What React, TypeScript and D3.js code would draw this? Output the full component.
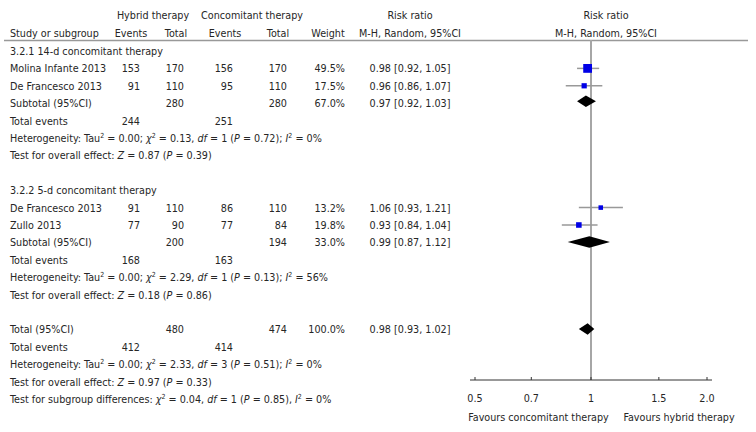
import React from "react";
import * as d3 from "d3";

// ---- Data ----
const subgroupTitles = ["3.2.1 14-d concomitant therapy", "3.2.2 5-d concomitant therapy"];
const studyNames = ["Molina Infante 2013", "De Francesco 2013", "De Francesco 2013", "Zullo 2013"];
const studyGroup = [0, 0, 1, 1];
const hybridEvents = [153, 91, 91, 77];
const hybridTotals = [170, 110, 110, 90];
const concEvents = [156, 95, 86, 77];
const concTotals = [170, 110, 110, 84];
const studyWeights = [49.5, 17.5, 13.2, 19.8];
const studyRR = [0.98, 0.96, 1.06, 0.93];
const studyLo = [0.92, 0.86, 0.93, 0.84];
const studyHi = [1.05, 1.07, 1.21, 1.04];

// subtotals (group 0, group 1) and overall (index 2)
const pooledLabels = ["Subtotal (95%CI)", "Subtotal (95%CI)", "Total (95%CI)"];
const pooledHybridTotal = [280, 200, 480];
const pooledConcTotal = [280, 194, 474];
const pooledWeight = ["67.0%", "33.0%", "100.0%"];
const pooledRR = [0.97, 0.99, 0.98];
const pooledLo = [0.92, 0.87, 0.93];
const pooledHi = [1.03, 1.12, 1.02];
const pooledHybridEvents = [244, 168, 412];
const pooledConcEvents = [251, 163, 414];
const hetTau = ["0.00", "0.00", "0.00"];
const hetChi = ["0.13", "2.29", "2.33"];
const hetDf = [1, 1, 3];
const hetP = ["0.72", "0.13", "0.51"];
const hetI2 = [0, 56, 0];
const overallZ = ["0.87", "0.18", "0.97"];
const overallP = ["0.39", "0.86", "0.33"];
const subgroupDiff = { chi: "0.04", df: 1, p: "0.85", i2: 0 };

const tickValues = [0.5, 0.7, 1, 1.5, 2.0];
const tickLabels = ["0.5", "0.7", "1", "1.5", "2.0"];

// ---- Layout ----
const W = 756;
const H = 432;
const FONT = "'DejaVu Sans Condensed', 'DejaVu Sans', sans-serif";
const FS = 10.7;
const TXT = "#262626";
const row0 = 51;
const rowH = 17.4;
const rowY = (i: number) => row0 + i * rowH;

const x = d3.scaleLog().domain([0.5, 2]).range([475, 707]);

const col = {
  study: 10,
  hE: 140,
  hT: 184,
  cE: 233,
  cT: 287,
  w: 345,
  rr: 410,
};

// simple markup: [text] italic, {text} superscript
function Rich({ s, xPos, y, anchor = "start" }: { s: string; xPos: number; y: number; anchor?: string }) {
  const parts: { t: string; it?: boolean; sup?: boolean }[] = [];
  const re = /\[([^\]]*)\]|\{([^}]*)\}|([^\[\{]+)/g;
  let m;
  while ((m = re.exec(s))) {
    if (m[1] !== undefined) parts.push({ t: m[1], it: true });
    else if (m[2] !== undefined) parts.push({ t: m[2], sup: true });
    else parts.push({ t: m[3] });
  }
  const out: any[] = [];
  let prevSup = false;
  parts.forEach((p, i) => {
    let dy: any = undefined;
    if (p.sup && !prevSup) dy = -4;
    else if (!p.sup && prevSup) dy = 4;
    out.push(
      <tspan
        key={i}
        dy={dy}
        fontStyle={p.it ? "italic" : undefined}
        fontSize={p.sup ? 7 : undefined}
      >
        {p.t}
      </tspan>
    );
    prevSup = !!p.sup;
  });
  return (
    <text x={xPos} y={y + 4} textAnchor={anchor} fontFamily={FONT} fontSize={FS} fill={TXT}>
      {out}
    </text>
  );
}

function T({ xPos, y, anchor = "start", children }: any) {
  return (
    <text x={xPos} y={y + 4} textAnchor={anchor} fontFamily={FONT} fontSize={FS} fill={TXT}>
      {children}
    </text>
  );
}

const fmtRR = (r: number, lo: number, hi: number) =>
  `${r.toFixed(2)} [${lo.toFixed(2)}, ${hi.toFixed(2)}]`;

export default function App() {
  // row indices
  const groupStart = [0, 8];
  const pooledRow = [3, 11, 16];
  const studyRows = studyNames.map((_, i) => {
    const g = studyGroup[i];
    const idx = studyGroup.slice(0, i).filter((gg) => gg === g).length;
    return groupStart[g] + 1 + idx;
  });

  const x1 = x(1);
  const axisY = 380;

  return (
    <svg width={W} height={H} style={{ position: "absolute", left: 0, top: 0, background: "#fff" }}>
      <rect width={W} height={H} fill="#fff" />
      {/* headers */}
      <T xPos={153} y={15} anchor="middle">Hybrid therapy</T>
      <T xPos={252} y={15} anchor="middle">Concomitant therapy</T>
      <T xPos={410} y={15} anchor="middle">Risk ratio</T>
      <T xPos={606} y={15} anchor="middle">Risk ratio</T>
      <T xPos={col.study} y={33}>Study or subgroup</T>
      <T xPos={131} y={33} anchor="middle">Events</T>
      <T xPos={176} y={33} anchor="middle">Total</T>
      <T xPos={225} y={33} anchor="middle">Events</T>
      <T xPos={278} y={33} anchor="middle">Total</T>
      <T xPos={328} y={33} anchor="middle">Weight</T>
      <T xPos={410} y={33} anchor="middle">M-H, Random, 95%CI</T>
      <T xPos={606} y={33} anchor="middle">M-H, Random, 95%CI</T>
      <line x1={4} x2={748} y1={40.5} y2={40.5} stroke="#999" strokeWidth={1.5} />

      {/* vertical line of no effect */}
      <line x1={x1} x2={x1} y1={40} y2={axisY} stroke="#a6a6a6" strokeWidth={2} />

      {/* subgroup titles */}
      {subgroupTitles.map((t, g) => (
        <T key={"sg" + g} xPos={col.study} y={rowY(groupStart[g])}>{t}</T>
      ))}

      {/* studies */}
      {studyNames.map((n, i) => {
        const y = rowY(studyRows[i]);
        const side = 1.25 * Math.sqrt(studyWeights[i]);
        return (
          <g key={"st" + i}>
            <T xPos={col.study} y={y}>{n}</T>
            <T xPos={col.hE} y={y} anchor="end">{hybridEvents[i]}</T>
            <T xPos={col.hT} y={y} anchor="end">{hybridTotals[i]}</T>
            <T xPos={col.cE} y={y} anchor="end">{concEvents[i]}</T>
            <T xPos={col.cT} y={y} anchor="end">{concTotals[i]}</T>
            <T xPos={col.w} y={y} anchor="end">{studyWeights[i].toFixed(1)}%</T>
            <T xPos={col.rr} y={y} anchor="middle">{fmtRR(studyRR[i], studyLo[i], studyHi[i])}</T>
            <line x1={x(studyLo[i])} x2={x(studyHi[i])} y1={y} y2={y} stroke="#999" strokeWidth={1.5} />
            <rect x={x(studyRR[i]) - side / 2} y={y - side / 2} width={side} height={side} fill="#0000e6" />
          </g>
        );
      })}

      {/* pooled */}
      {pooledLabels.map((lab, k) => {
        const r = pooledRow[k];
        const y = rowY(r);
        const yd = k === 0 ? y - 2 : y - 0.5;
        const h = 11.5;
        const pts = [
          [x(pooledLo[k]), yd],
          [x(pooledRR[k]), yd - h / 2],
          [x(pooledHi[k]), yd],
          [x(pooledRR[k]), yd + h / 2],
        ];
        return (
          <g key={"pl" + k}>
            <T xPos={col.study} y={y}>{lab}</T>
            <T xPos={col.hT} y={y} anchor="end">{pooledHybridTotal[k]}</T>
            <T xPos={col.cT} y={y} anchor="end">{pooledConcTotal[k]}</T>
            <T xPos={col.w} y={y} anchor="end">{pooledWeight[k]}</T>
            <T xPos={col.rr} y={y} anchor="middle">{fmtRR(pooledRR[k], pooledLo[k], pooledHi[k])}</T>
            <polygon points={pts.map((p) => p.join(",")).join(" ")} fill="#000" />
            <T xPos={col.study} y={rowY(r + 1)}>Total events</T>
            <T xPos={col.hE} y={rowY(r + 1)} anchor="end">{pooledHybridEvents[k]}</T>
            <T xPos={col.cE} y={rowY(r + 1)} anchor="end">{pooledConcEvents[k]}</T>
            <Rich
              xPos={col.study}
              y={rowY(r + 2)}
              s={`Heterogeneity: Tau{2} = ${hetTau[k]}; [χ]{2} = ${hetChi[k]}, [df] = ${hetDf[k]} ([P] = ${hetP[k]}); [I]{2} = ${hetI2[k]}%`}
            />
            <Rich
              xPos={col.study}
              y={rowY(r + 3)}
              s={`Test for overall effect: [Z] = ${overallZ[k]} ([P] = ${overallP[k]})`}
            />
          </g>
        );
      })}
      <Rich
        xPos={col.study}
        y={rowY(20)}
        s={`Test for subgroup differences: [χ]{2} = ${subgroupDiff.chi}, [df] = ${subgroupDiff.df} ([P] = ${subgroupDiff.p}), [I]{2} = ${subgroupDiff.i2}%`}
      />

      {/* axis */}
      <line x1={470} x2={712} y1={axisY} y2={axisY} stroke="#333" strokeWidth={1} />
      {tickValues.map((v, i) => (
        <g key={"tk" + i}>
          <line x1={x(v)} x2={x(v)} y1={axisY - 3} y2={axisY} stroke="#333" strokeWidth={1} />
          <T xPos={x(v)} y={398} anchor="middle">{tickLabels[i]}</T>
        </g>
      ))}
      <T xPos={538.5} y={417} anchor="middle">Favours concomitant therapy</T>
      <T xPos={679} y={417} anchor="middle">Favours hybrid therapy</T>
    </svg>
  );
}
